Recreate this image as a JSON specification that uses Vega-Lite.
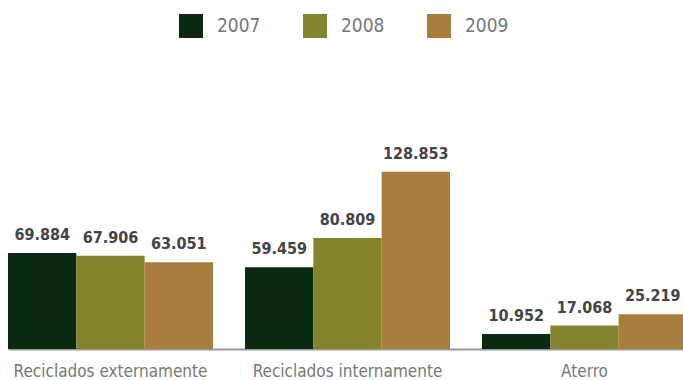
{
  "$schema": "https://vega.github.io/schema/vega-lite/v6.json",
  "autosize": "none",
  "width": 683,
  "height": 275,
  "padding": {"left": 0, "right": 0, "top": 74, "bottom": 31},
  "background": "white",
  "data": {"values": [
    {"cat": "Reciclados externamente", "year": "2007", "value": 69.884, "label": "69.884"},
    {"cat": "Reciclados externamente", "year": "2008", "value": 67.906, "label": "67.906"},
    {"cat": "Reciclados externamente", "year": "2009", "value": 63.051, "label": "63.051"},
    {"cat": "Reciclados internamente", "year": "2007", "value": 59.459, "label": "59.459"},
    {"cat": "Reciclados internamente", "year": "2008", "value": 80.809, "label": "80.809"},
    {"cat": "Reciclados internamente", "year": "2009", "value": 128.853, "label": "128.853"},
    {"cat": "Aterro", "year": "2007", "value": 10.952, "label": "10.952"},
    {"cat": "Aterro", "year": "2008", "value": 17.068, "label": "17.068"},
    {"cat": "Aterro", "year": "2009", "value": 25.219, "label": "25.219"}
  ]},
  "encoding": {
    "x": {
      "field": "cat", "type": "nominal", "sort": null, "title": null,
      "scale": {"range": [8, 687], "paddingInner": 0.135, "paddingOuter": 0},
      "axis": {
        "labelAngle": 0, "ticks": false, "domainColor": "#999999", "domainWidth": 2,
        "labelFont": "DejaVu Sans Condensed", "labelFontSize": 17, "labelColor": "#777777",
        "labelPadding": 14, "labelLimit": 0
      }
    },
    "xOffset": {"field": "year", "type": "nominal", "sort": null, "scale": {"paddingInner": 0, "paddingOuter": 0}},
    "y": {"field": "value", "type": "quantitative", "scale": {"domain": [0, 200]}, "axis": null}
  },
  "layer": [
    {
      "mark": {"type": "bar"},
      "encoding": {
        "color": {
          "field": "year", "type": "nominal", "title": null,
          "scale": {"domain": ["2007", "2008", "2009"], "range": ["#0a2a12", "#83822f", "#a97d3e"]},
          "legend": {
            "orient": "none", "legendX": 179, "legendY": -60, "direction": "horizontal",
            "symbolType": "square", "symbolSize": 576, "symbolStrokeWidth": 0,
            "labelFont": "DejaVu Sans Condensed", "labelFontSize": 19, "labelColor": "#777777",
            "labelOffset": 14, "columnPadding": 42
          }
        }
      }
    },
    {
      "mark": {"type": "text", "baseline": "bottom", "dy": -10, "font": "DejaVu Sans Condensed", "fontSize": 16, "fontWeight": "bold", "color": "#444444"},
      "encoding": {"text": {"field": "label"}}
    }
  ],
  "config": {"view": {"stroke": null}}
}
